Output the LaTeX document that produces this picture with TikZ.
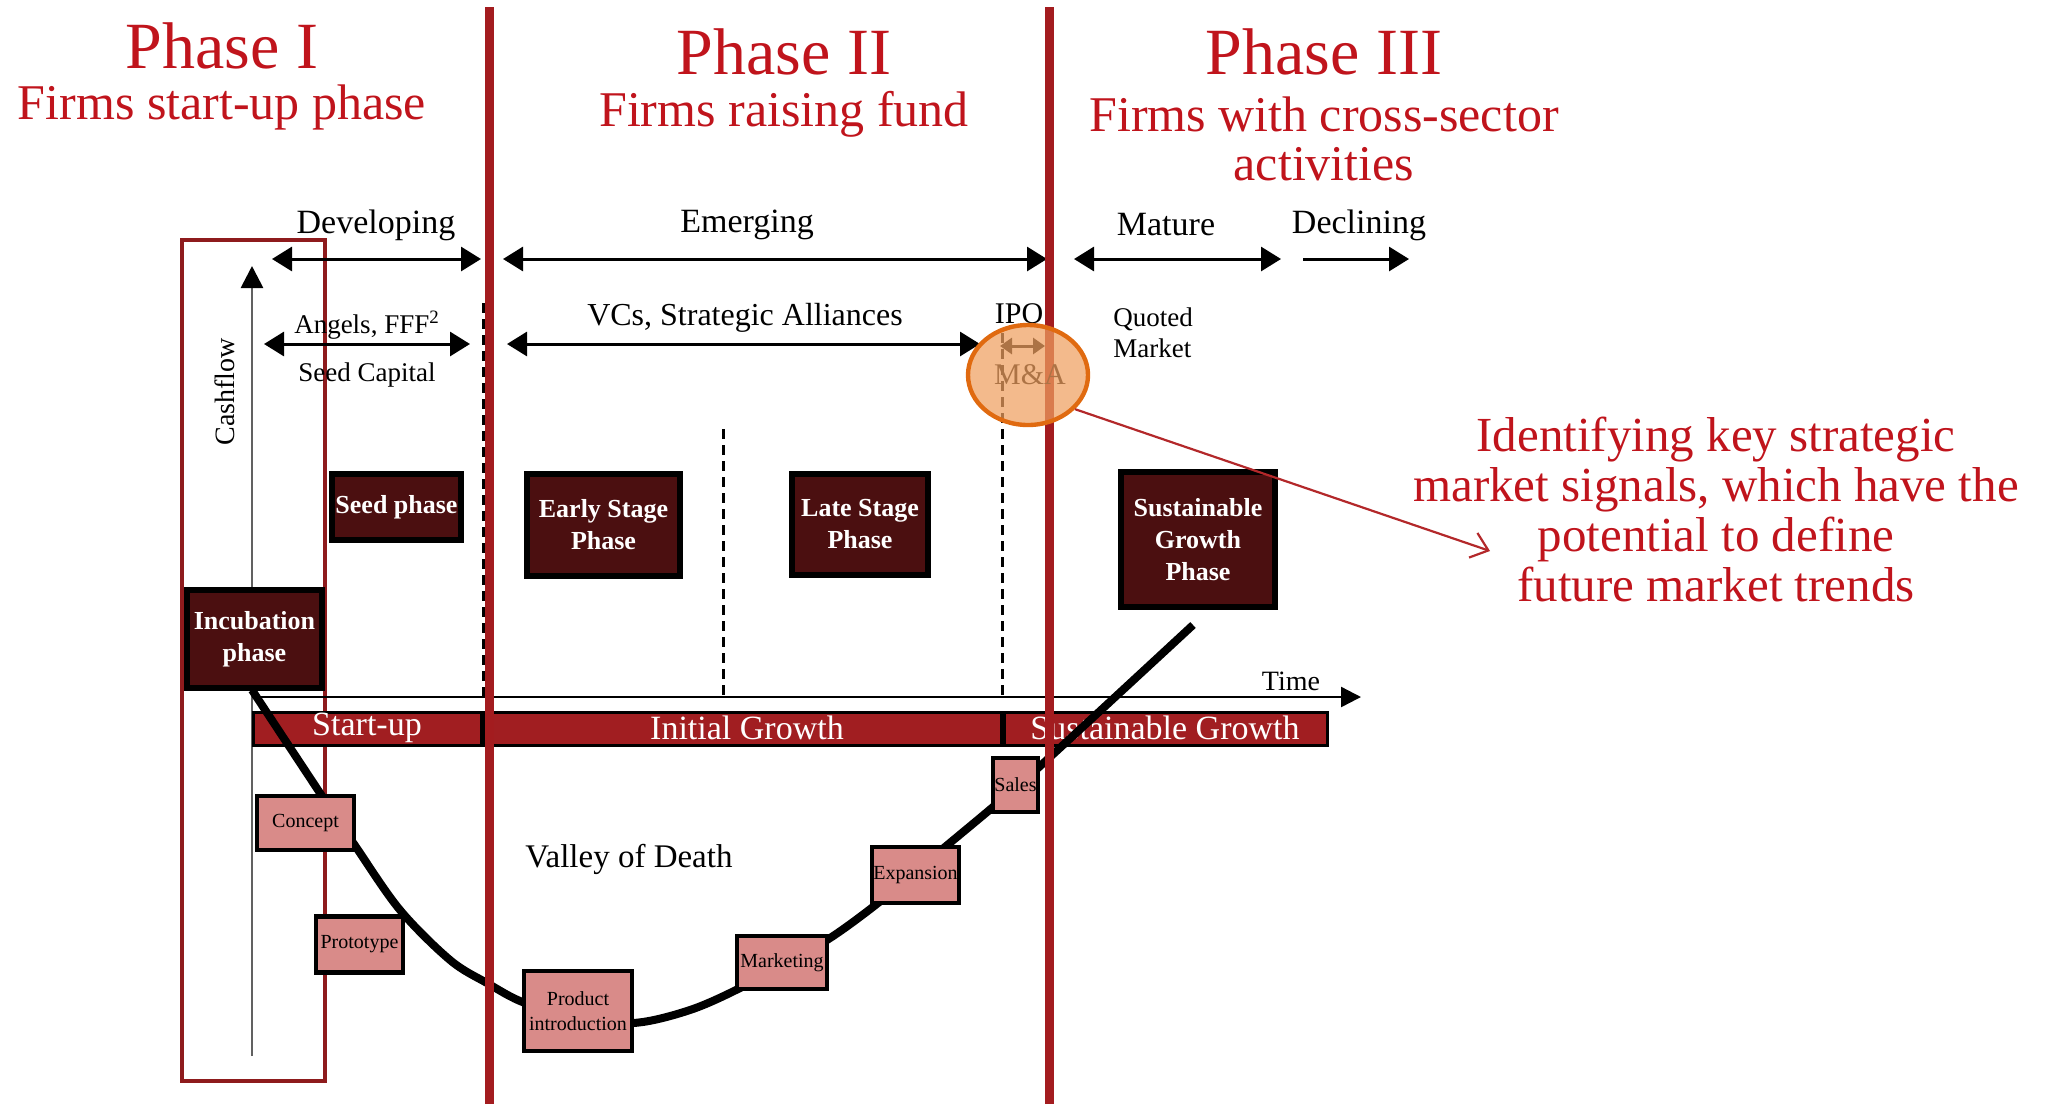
\documentclass[tikz,border=0pt]{standalone}
\usepackage{fontspec}
\setmainfont{Liberation Serif}
\usetikzlibrary{arrows.meta,shapes.geometric}
\definecolor{titlered}{HTML}{C0141C}
\definecolor{vline}{HTML}{A31C1F}
\definecolor{darkbox}{HTML}{4B0F10}
\definecolor{pinkbox}{HTML}{D98B89}
\definecolor{barred}{HTML}{A11E21}
\definecolor{outline}{HTML}{8E1B1D}
\definecolor{orfill}{HTML}{EFA060}
\definecolor{ordraw}{HTML}{E06A10}
\definecolor{sigred}{HTML}{B3282A}
\begin{document}
\begin{tikzpicture}[x=0.5pt,y=-0.5pt,
  darkbx/.style={draw=black,line width=3pt,fill=darkbox,text=white,font=\fontsize{13}{16}\selectfont\bfseries,align=center,inner sep=0pt},
  pinkbx/.style={draw=black,line width=2.2pt,fill=pinkbox,text=black,font=\fontsize{10}{12.5}\selectfont,align=center,inner sep=0pt},
  biarrow/.style={{Triangle[length=10pt,width=12pt]}-{Triangle[length=10pt,width=12pt]},line width=1.5pt},
  onearrow/.style={-{Triangle[length=10pt,width=12pt]},line width=1.5pt},
  titletxt/.style={text=titlered,font=\fontsize{33}{38}\selectfont,inner sep=0pt},
  subtxt/.style={text=titlered,font=\fontsize{25}{24.5}\selectfont,inner sep=0pt,align=center},
  stagetxt/.style={font=\fontsize{17}{20}\selectfont,inner sep=0pt},
  fundtxt/.style={font=\fontsize{13.5}{15.5}\selectfont,inner sep=0pt,align=left},
  bartxt/.style={text=white,font=\fontsize{17}{20}\selectfont,inner sep=0pt},
  redvline/.style={draw=vline,line width=4.5pt},
  dashline/.style={draw=black,line width=1.5pt,dash pattern=on 5pt off 3pt},
  curveline/.style={draw=black,line width=4pt,line join=round}
]
\useasboundingbox (0,0) rectangle (2049,1104);

% outline rectangle around incubation column
\draw[outline,line width=1.7pt] (182,240) rectangle (325,1081);

% axes
\coordinate (cfbot) at (252,1056);
\coordinate (cftop) at (252,266);
\draw[draw=black!62,line width=1.4pt,-{Triangle[length=11pt,width=11pt,color=black]}] (cfbot) -- (cftop);
\coordinate (tleft) at (252,697);
\coordinate (tright) at (1361,697);
\draw[line width=1.2pt,-{Triangle[length=10pt,width=10pt]}] (tleft) -- (tright);

% dashed separators
\draw[dashline] (483,303) -- (483,697);
\draw[dashline] (723,429) -- (723,697);
\draw[dashline] (1002,333) -- (1002,697);

% stage bar
\draw[fill=barred,draw=black,line width=1.5pt] (253,712) rectangle (1327,745);
\draw[line width=3pt] (483,712) -- (483,745);
\draw[line width=3pt] (1003,712) -- (1003,745);
\node[bartxt] (bstart) at (367,728) {Start-up};
\node[bartxt] (binit) at (747,728) {Initial Growth};
\node[bartxt] (bsust) at (1165,728) {Sustainable Growth};

% valley of death curve
\draw[curveline] plot[smooth,tension=0.55] coordinates {(252,690) (320,793) (356,847) (400,910) (450,960) (487,983) (525,1003) (578,1016) (633,1023) (690,1010) (742,987) (785,962) (827,940) (878,903) (945,847) (993,807) (1038,768) (1193,625)};

% pink step boxes
\node[pinkbx,minimum width=48.5pt,minimum height=27pt] (concept) at (305.5,823) {Concept};
\node[pinkbx,minimum width=43.5pt,minimum height=28pt] (proto) at (359.5,944.5) {Prototype};
\node[pinkbx,minimum width=54pt,minimum height=40pt] (prodintro) at (578,1011) {Product\\introduction};
\node[pinkbx,minimum width=45pt,minimum height=26.5pt] (marketing) at (782,962.5) {Marketing};
\node[pinkbx,minimum width=43.5pt,minimum height=28pt] (expansion) at (915.5,875) {Expansion};
\node[pinkbx,minimum width=22.5pt,minimum height=27pt] (sales) at (1015.5,785) {Sales};

\node[font=\fontsize{16.5}{19}\selectfont,inner sep=0pt] (valley) at (629,859) {Valley of Death};

% dark phase boxes
\node[darkbx,minimum width=64.5pt,minimum height=33pt] (seed) at (396.5,507) {Seed phase};
\node[darkbx,minimum width=76.5pt,minimum height=51pt] (early) at (603.5,525) {Early Stage\\Phase};
\node[darkbx,minimum width=68pt,minimum height=50.5pt] (late) at (860,524.5) {Late Stage\\Phase};
\node[darkbx,minimum width=77pt,minimum height=67.5pt] (sustbox) at (1198,539.5) {Sustainable\\Growth\\Phase};
\node[darkbx,minimum width=67.5pt,minimum height=49pt] (incub) at (254.5,639) {Incubation\\phase};

% lifecycle arrows
\coordinate (devL) at (272,259); \coordinate (devR) at (481,259);
\coordinate (emeL) at (503,259); \coordinate (emeR) at (1047,259);
\coordinate (matL) at (1074,259); \coordinate (matR) at (1281,259);
\coordinate (decL) at (1303,259); \coordinate (decR) at (1409,259);
\draw[biarrow] (devL) -- (devR);
\draw[biarrow] (emeL) -- (emeR);
\draw[biarrow] (matL) -- (matR);
\draw[onearrow] (decL) -- (decR);
\node[stagetxt] (tdev) at (376,225) {Developing};
\node[stagetxt] (teme) at (747,225) {Emerging};
\node[stagetxt] (tmat) at (1166,225) {Mature};
\node[stagetxt] (tdec) at (1359,225) {Declining};

% funding arrows
\coordinate (angL) at (264,344); \coordinate (angR) at (470,344);
\coordinate (vcL) at (507,344); \coordinate (vcR) at (980,344);
\draw[biarrow] (angL) -- (angR);
\draw[biarrow] (vcL) -- (vcR);
\node[fundtxt] (tang) at (367,325) {Angels, FFF\textsuperscript{2}};
\node[fundtxt] (tseed) at (367,375) {Seed Capital};
\node[font=\fontsize{16}{18}\selectfont,inner sep=0pt] (tvc) at (745,318) {VCs, Strategic Alliances};
\node[fundtxt,anchor=west] (tquoted) at (1113,333) {Quoted\\Market};

% axis labels
\node[rotate=90,font=\fontsize{14}{16}\selectfont,inner sep=0pt] (tcash) at (225,392) {Cashflow};
\node[font=\fontsize{14}{16}\selectfont,inner sep=0pt] (ttime) at (1291,681) {Time};

% phase separators
\draw[redvline] (489,7) -- (489,1104);
\draw[redvline] (1049,7) -- (1049,1104);

% IPO / M&A
\node[font=\fontsize{15}{17}\selectfont,inner sep=0pt] (tipo) at (1019,314) {IPO};
\coordinate (maL) at (1000,346); \coordinate (maR) at (1045,346);
\draw[{Triangle[length=6pt,width=8pt]}-{Triangle[length=6pt,width=8pt]},line width=1.5pt] (maL) -- (maR);
\node[font=\fontsize{15}{17}\selectfont,inner sep=0pt] (tma) at (1030,375) {M\&A};
\node[ellipse,minimum width=60pt,minimum height=50pt,inner sep=0pt,fill=orfill,fill opacity=0.72,draw=ordraw,draw opacity=1,line width=2.2pt] (ell) at (1028,375) {};

% signal annotation
\node[text=titlered,font=\fontsize{24.5}{25}\selectfont,align=center,inner sep=0pt] (signal) at (1716,509) {Identifying key strategic\\market signals, which have the\\potential to define\\future market trends};
\coordinate (sigtip) at (1490,551);
\draw[sigred,line width=1.1pt,-{Straight Barb[length=8pt,width=13pt]}] (ell.-36) -- (sigtip);

% titles
\node[titletxt] (p1) at (222,46) {Phase I};
\node[subtxt] (p1s) at (222,107) {Firms start-up phase};
\node[titletxt] (p2) at (784,52) {Phase II};
\node[subtxt] (p2s) at (784,114) {Firms raising fund};
\node[titletxt] (p3) at (1324,52) {Phase III};
\node[subtxt] (p3s) at (1324,138.5) {Firms with cross-sector\\activities};
\end{tikzpicture}
\end{document}
